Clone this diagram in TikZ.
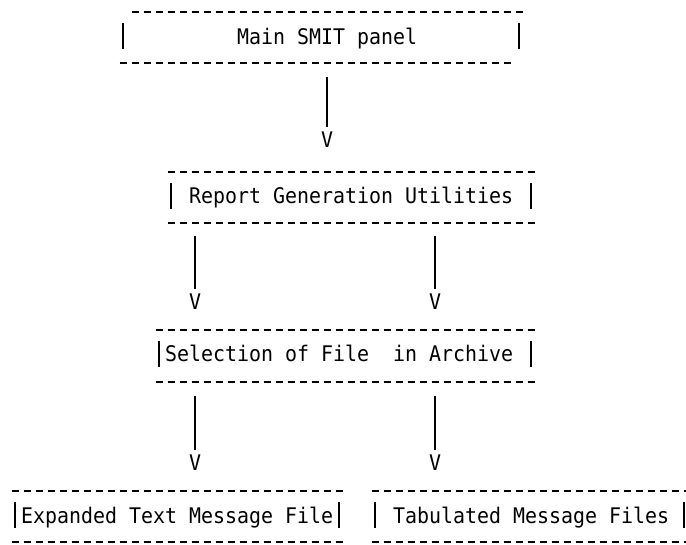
\documentclass[tikz,border=0pt]{standalone}
\usepackage{fontspec}
\newfontfamily\asciifont[FakeStretch=0.927]{DejaVu Sans Mono}
\usetikzlibrary{calc}

\tikzset{
	txt/.style={font={\asciifont\fontsize{21.5pt}{26pt}\selectfont}, inner sep=0pt, anchor=base west},
	border/.style={line width=1.5pt, dash pattern=on 7pt off 5pt, dash phase=9.5pt},
	side/.style={line width=1.6pt},
	stem/.style={line width=1.6pt},
}

\begin{document}
\begin{tikzpicture}[x=12pt,y=-1pt]
		\path[use as bounding box, fill=white] (0pt,0pt) rectangle (686pt,-545pt);
		\begin{scope}[xshift=9pt]
			% main panel
			\coordinate (mainTop) at (10,12);
			\coordinate (mainBot) at (9,63);
			\draw[border] (mainTop) -- ++(33,0);
			\draw[border] (mainBot) -- ++(33,0);
			\node[txt] (main) at (19,45) {Main SMIT panel};
			\draw[side] (9.5,23) -- (9.5,49);
			\draw[side] (42.5,23) -- (42.5,49);
			\node[txt] (arrMain) at (26,148) {V};
			\draw[stem] ($(mainBot -| arrMain)+(0,14)$) -- ($(arrMain.north)+(0,-5)$);
			
			% report utilities
			\coordinate (repTop) at (13,172);
			\coordinate (repBot) at (13,223);
			\draw[border] (repTop) -- ++(31,0);
			\draw[border] (repBot) -- ++(31,0);
			\node[txt] (rep) at (15,204) {Report Generation Utilities};
			\draw[side] (13.5,183) -- (13.5,209);
			\draw[side] (43.5,183) -- (43.5,209);
			\node[txt] (arrRepL) at (15,310) {V};
			\node[txt] (arrRepR) at (35,310) {V};
			\draw[stem] ($(repBot -| arrRepL)+(0,13)$) -- ($(arrRepL.north)+(0,-5)$);
			\draw[stem] ($(repBot -| arrRepR)+(0,13)$) -- ($(arrRepR.north)+(0,-5)$);
			
			% archive selection
			\coordinate (selTop) at (12,330);
			\coordinate (selBot) at (12,382);
			\draw[border] (selTop) -- ++(32,0);
			\draw[border] (selBot) -- ++(32,0);
			\node[txt] (sel) at (13,362) {Selection of File\ \ in Archive};
			\draw[side] (12.5,341) -- (12.5,367);
			\draw[side] (43.5,341) -- (43.5,367);
			\node[txt] (arrSelL) at (15,471) {V};
			\node[txt] (arrSelR) at (35,471) {V};
			\draw[stem] ($(selBot -| arrSelL)+(0,14)$) -- ($(arrSelL.north)+(0,-5)$);
			\draw[stem] ($(selBot -| arrSelR)+(0,14)$) -- ($(arrSelR.north)+(0,-5)$);
			
			% output files
			\coordinate (expTop) at (0,491);
			\coordinate (expBot) at (0,542);
			\draw[border] (expTop) -- ++(28,0);
			\draw[border] (expBot) -- ++(28,0);
			\node[txt] (exp) at (1,523) {Expanded Text Message File};
			\draw[side] (0.5,502) -- (0.5,528);
			\draw[side] (27.5,502) -- (27.5,528);
			
			\coordinate (tabTop) at (30,491);
			\coordinate (tabBot) at (30,542);
			\draw[border] (tabTop) -- ++(27,0);
			\draw[border] (tabBot) -- ++(27,0);
			\node[txt] (tab) at (32,523) {Tabulated Message Files};
			\draw[side] (30.5,502) -- (30.5,528);
			\draw[side] (56.25,502) -- (56.25,528);
		\end{scope}
	\end{tikzpicture}
\end{document}
